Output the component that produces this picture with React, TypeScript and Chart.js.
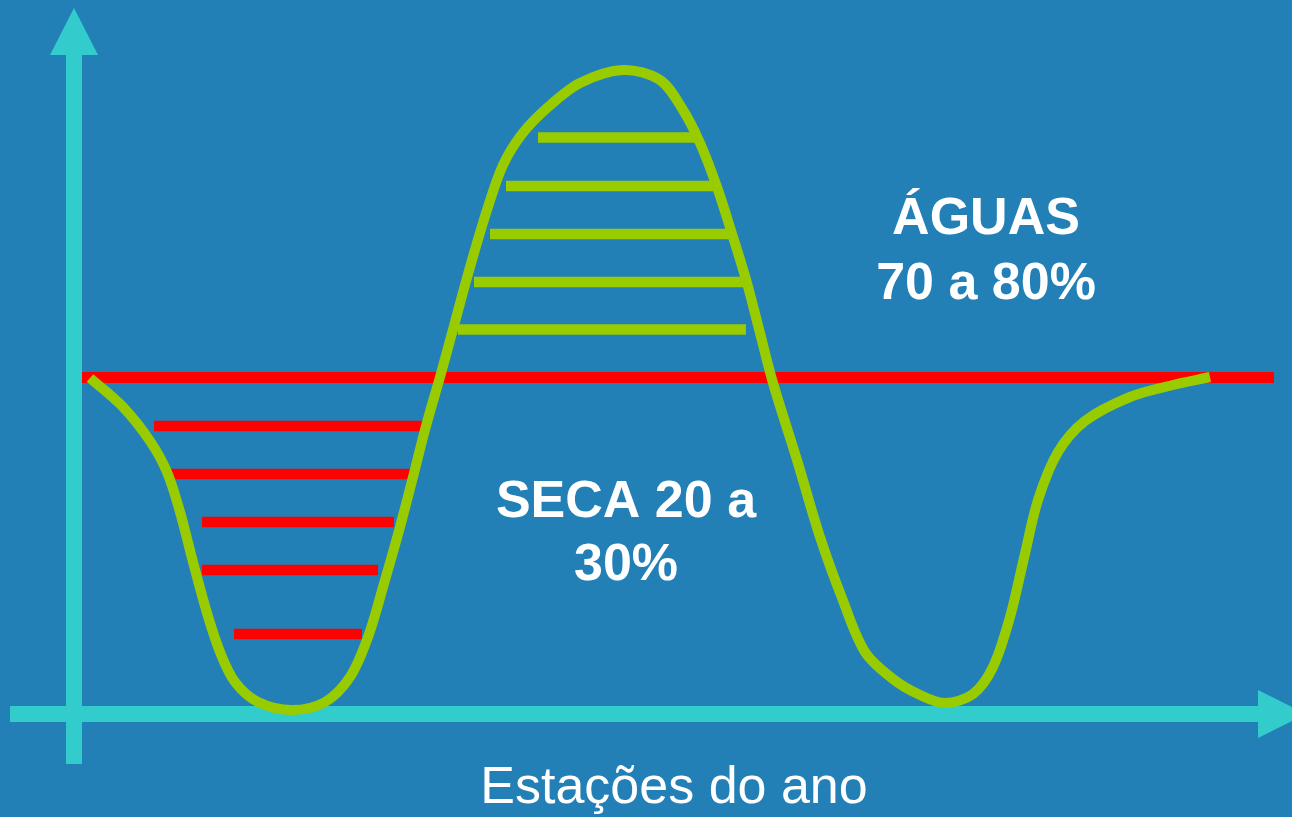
import React, { useEffect, useRef } from "react";
import { Chart, registerables } from "chart.js";

Chart.register(...registerables);

// ---- data (x: time of year, y: level measured downward on a reversed scale) ----
const curveX = [90, 123, 150, 167, 180, 193, 207, 220, 235, 258, 292, 325, 350, 368, 385, 400, 413, 426, 440, 455, 470, 487, 503, 522, 547, 580, 623, 660, 683, 700, 717, 733, 747, 760, 773, 797, 820, 842, 865, 893, 918, 945, 973, 993, 1010, 1024, 1038, 1058, 1085, 1130, 1173, 1210];
const curveY = [378, 407, 441, 472, 512, 562, 613, 652, 682, 702, 710, 702, 677, 637, 580, 527, 477, 426, 377, 322, 267, 210, 165, 134, 108, 83, 70, 80, 110, 143, 187, 237, 283, 333, 383, 460, 537, 598, 652, 679, 694, 703, 694, 667, 617, 558, 500, 452, 421, 397, 385, 377];

const averageLevel = 377.5;
const averageStart = 82;
const averageEnd = 1274;

const dryLevels = [426, 474, 522, 570, 634];
const dryStart = [154, 170, 202, 202, 234];
const dryEnd = [426, 410, 394, 378, 362];

const wetLevels = [137.5, 186, 234, 282, 329.5];
const wetStart = [538, 506, 490, 474, 458];
const wetEnd = [696, 714, 729, 743, 746];

// axes (origin and extents, in the same units)
const yAxisX = 74;
const yAxisFrom = 764;
const yAxisTo = 55;
const yAxisTip = 8;
const xAxisY = 714;
const xAxisFrom = 10;
const xAxisTo = 1258;
const xAxisTip = 1306;

const labelTexts = ["ÁGUAS", "70 a 80%", "SECA 20 a", "30%", "Estações do ano"];
const labelX = [986, 986, 626, 626, 674];
const labelY = [234, 299, 517, 580, 803];
const labelBold = [true, true, true, true, false];

const BG = "#2280B7";
const CYAN = "#33CCCC";
const GREEN = "#99CC00";
const RED = "#FF0000";

function seg(x0: number, x1: number, y: number) {
  return [
    { x: x0, y },
    { x: x1, y },
  ];
}

export default function App() {
  const ref = useRef<HTMLCanvasElement>(null);

  useEffect(() => {
    const canvas = ref.current;
    if (!canvas) return;

    const datasets: any[] = [];
    datasets.push({
      data: curveX.map((x, i) => ({ x, y: curveY[i] })),
      borderColor: GREEN,
      borderWidth: 10,
      borderCapStyle: "butt",
      borderJoinStyle: "round",
      tension: 0.33,
      pointRadius: 0,
      fill: false,
    });
    wetLevels.forEach((lv, i) =>
      datasets.push({
        data: seg(wetStart[i], wetEnd[i], lv),
        borderColor: GREEN,
        borderWidth: 10.5,
        borderCapStyle: "butt",
        pointRadius: 0,
        fill: false,
      })
    );
    dryLevels.forEach((lv, i) =>
      datasets.push({
        data: seg(dryStart[i], dryEnd[i], lv),
        borderColor: RED,
        borderWidth: 10.5,
        borderCapStyle: "butt",
        pointRadius: 0,
        fill: false,
      })
    );
    datasets.push({
      data: seg(averageStart, averageEnd, averageLevel),
      borderColor: RED,
      borderWidth: 11,
      borderCapStyle: "butt",
      pointRadius: 0,
      fill: false,
    });

    const bgPlugin = {
      id: "bg",
      beforeDraw(chart: any) {
        const { ctx, width, height } = chart;
        ctx.save();
        ctx.fillStyle = BG;
        ctx.fillRect(0, 0, width, height);
        ctx.restore();
      },
    };

    const axesPlugin = {
      id: "arrowAxes",
      beforeDatasetsDraw(chart: any) {
        const { ctx } = chart;
        const sx = chart.scales.x;
        const sy = chart.scales.y;
        const px = (v: number) => sx.getPixelForValue(v);
        const py = (v: number) => sy.getPixelForValue(v);
        ctx.save();
        ctx.fillStyle = CYAN;
        const vx = px(yAxisX);
        ctx.fillRect(vx - 8, py(yAxisTo), 16, py(yAxisFrom) - py(yAxisTo));
        ctx.beginPath();
        ctx.moveTo(vx - 24, py(yAxisTo));
        ctx.lineTo(vx + 24, py(yAxisTo));
        ctx.lineTo(vx, py(yAxisTip));
        ctx.closePath();
        ctx.fill();
        const hy = py(xAxisY);
        ctx.fillRect(px(xAxisFrom), hy - 8, px(xAxisTo) - px(xAxisFrom), 16);
        ctx.beginPath();
        ctx.moveTo(px(xAxisTo), hy - 24);
        ctx.lineTo(px(xAxisTo), hy + 24);
        ctx.lineTo(px(xAxisTip), hy);
        ctx.closePath();
        ctx.fill();
        ctx.restore();
      },
    };

    const textPlugin = {
      id: "labels",
      afterDatasetsDraw(chart: any) {
        const { ctx } = chart;
        const sx = chart.scales.x;
        const sy = chart.scales.y;
        ctx.save();
        ctx.fillStyle = "#FFFFFF";
        ctx.textAlign = "center";
        ctx.textBaseline = "alphabetic";
        labelTexts.forEach((t, i) => {
          ctx.font = `${labelBold[i] ? "bold " : ""}52px "Liberation Sans", Arial, sans-serif`;
          ctx.fillText(t, sx.getPixelForValue(labelX[i]), sy.getPixelForValue(labelY[i]));
        });
        ctx.restore();
      },
    };

    const chart = new Chart(canvas, {
      type: "line",
      data: { datasets },
      options: {
        responsive: false,
        animation: false,
        devicePixelRatio: 1,
        layout: { padding: 0 },
        plugins: {
          legend: { display: false },
          tooltip: { enabled: false },
          title: { display: false },
        },
        scales: {
          x: { type: "linear", min: 0, max: 1292, display: false },
          y: { type: "linear", min: 0, max: 817, reverse: true, display: false },
        },
      },
      plugins: [bgPlugin, axesPlugin, textPlugin],
    } as any);

    return () => chart.destroy();
  }, []);

  return (
    <div style={{ position: "fixed", left: 0, top: 0, width: 1292, height: 817, background: BG }}>
      <canvas ref={ref} width={1292} height={817} style={{ display: "block", width: 1292, height: 817 }} />
    </div>
  );
}
